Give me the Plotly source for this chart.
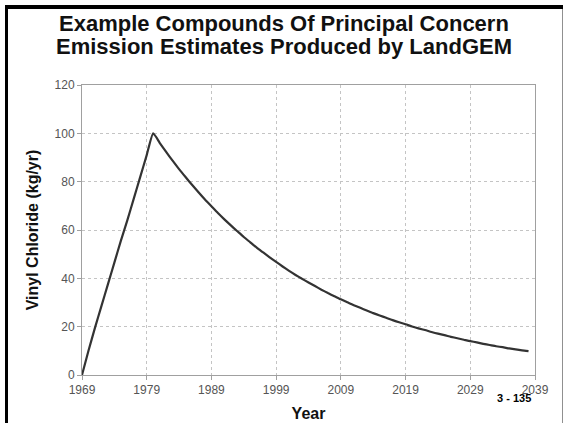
import plotly.graph_objects as go

# yearly emission estimates
years = list(range(1969, 2039))
vinyl_chloride = [
    0, 10, 19.5, 28.5, 37.5, 46.5, 55.5, 64, 73, 82, 91,
    100, 96.1, 92.3, 88.7, 85.2, 81.9, 78.7, 75.6, 72.6, 69.8,
    67.0, 64.4, 61.9, 59.5, 57.1, 54.9, 52.7, 50.7, 48.7, 46.8,
    44.9, 43.1, 41.4, 39.8, 38.3, 36.8, 35.3, 33.9, 32.6, 31.3,
    30.1, 28.9, 27.8, 26.7, 25.6, 24.6, 23.7, 22.7, 21.8, 21.0,
    20.1, 19.3, 18.6, 17.8, 17.1, 16.5, 15.8, 15.2, 14.6, 14.0,
    13.5, 12.9, 12.4, 11.9, 11.5, 11.0, 10.6, 10.2, 9.9, 9.8,
]

x_ticks = [1969, 1979, 1989, 1999, 2009, 2019, 2029, 2039]
y_ticks = [0, 20, 40, 60, 80, 100, 120]

title_lines = [
    "Example Compounds Of Principal Concern",
    "Emission Estimates Produced by LandGEM",
]
slide_number = "3 - 135"

W, H = 566, 423
L, R, T, B = 82, 31, 85, 48
PW, PH = W - L - R, H - T - B


def px_x(px):
    return (px - L) / PW


def px_y(py):
    return (H - B - py) / PH


FONT = "Arial, Liberation Sans, sans-serif"

fig = go.Figure()
fig.add_trace(go.Scatter(
    x=years,
    y=vinyl_chloride,
    mode="lines",
    line=dict(color="#333333", width=2.2, shape="spline", smoothing=0.5),
    showlegend=False,
))

axis_common = dict(
    automargin=False,
    showline=True,
    linecolor="#a0a0a0",
    linewidth=1,
    mirror=True,
    ticks="outside",
    ticklen=4,
    tickcolor="#a0a0a0",
    showgrid=True,
    gridcolor="#c4c4c4",
    griddash="dot",
    gridwidth=1,
    zeroline=False,
    tickfont=dict(family=FONT, size=12, color="#555555"),
)

fig.update_xaxes(
    range=[1969, 2039],
    tickvals=x_ticks,
    title=dict(text="<b>Year</b>", font=dict(family=FONT, size=16, color="#111111"), standoff=11),
    **axis_common,
)
fig.update_yaxes(
    range=[0, 120],
    tickvals=y_ticks,
    title=dict(text="<b>Vinyl Chloride (kg/yr)</b>", font=dict(family=FONT, size=16, color="#111111"), standoff=11),
    **axis_common,
)

for i, line in enumerate(title_lines):
    fig.add_annotation(
        text=f"<b>{line}</b>",
        xref="paper", yref="paper",
        x=px_x(284), y=px_y(23 + 23 * i),
        xanchor="center", yanchor="middle",
        showarrow=False,
        font=dict(family=FONT, size=22, color="#111111"),
    )

fig.add_annotation(
    text=f"<b>{slide_number}</b>",
    xref="paper", yref="paper",
    x=px_x(514), y=px_y(398),
    xanchor="center", yanchor="middle",
    showarrow=False,
    font=dict(family=FONT, size=11, color="#000000"),
)

# slide frame: black top bar (as a filled box), black left bar, thin grey right edge
fig.add_annotation(
    text=" ",
    xref="paper", yref="paper",
    x=px_x(5), y=px_y(5),
    xanchor="left", yanchor="top",
    width=558, height=4,
    bgcolor="black", borderpad=0, borderwidth=0,
    showarrow=False,
    font=dict(size=1),
)
fig.add_shape(type="line", xref="paper", yref="paper",
              x0=px_x(5), x1=px_x(563), y0=px_y(7), y1=px_y(7),
              line=dict(color="black", width=4))
fig.add_shape(type="line", xref="paper", yref="paper",
              x0=px_x(6.5), x1=px_x(6.5), y0=px_y(5), y1=px_y(423),
              line=dict(color="black", width=3))
fig.add_shape(type="line", xref="paper", yref="paper",
              x0=px_x(562.5), x1=px_x(562.5), y0=px_y(8), y1=px_y(423),
              line=dict(color="#909090", width=1))

fig.update_layout(
    width=W,
    height=H,
    margin=dict(l=L, r=R, t=T, b=B),
    paper_bgcolor="white",
    plot_bgcolor="white",
    font=dict(family=FONT),
)

fig.write_html(
    "out.html",
    config={"displayModeBar": False},
    post_script="document.body.style.margin='0';",
)
